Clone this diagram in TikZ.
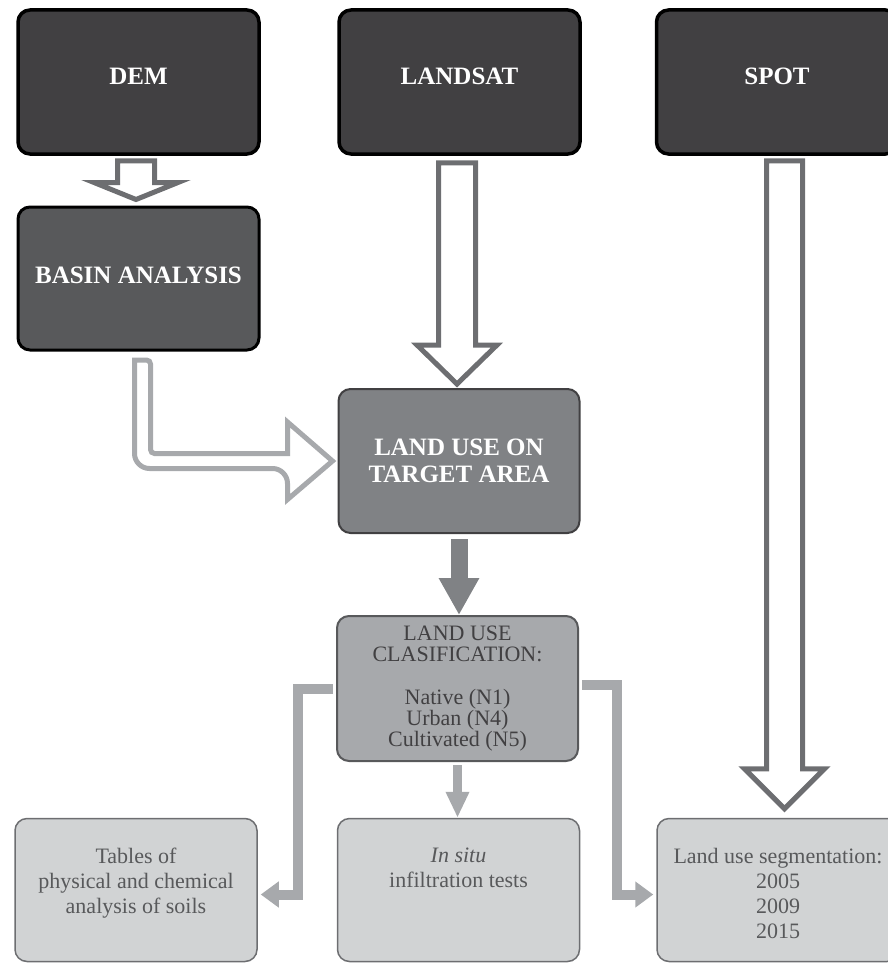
\documentclass[tikz,border=0pt]{standalone}
\usepackage{fontspec}
\setmainfont{Liberation Serif}
\usepackage{tikz}
\usetikzlibrary{arrows.meta,calc}

\definecolor{darkfill}{HTML}{414042}
\definecolor{basinfill}{HTML}{58595B}
\definecolor{midgray}{HTML}{808285}
\definecolor{arrowgray}{HTML}{A7A9AC}
\definecolor{palefill}{HTML}{D1D3D4}
\definecolor{linegray}{HTML}{6D6E71}

% hollow arrow pointing down: style, top, tip, half shaft, half head, head length
\newcommand{\hollowdown}[6]{%
	\draw[#1] ($(#2)+(-#4,0)$) -- ($(#3)+(-#4,-#6)$) -- ($(#3)+(-#5,-#6)$) -- (#3)
		-- ($(#3)+(#5,-#6)$) -- ($(#3)+(#4,-#6)$) -- ($(#2)+(#4,0)$) -- cycle;}

\begin{document}
\begin{tikzpicture}[x=1pt,y=-1pt,
	box/.style={rectangle,rounded corners=12pt,align=center,inner sep=0pt},
	topbox/.style={box,draw=black,line width=3.5pt,fill=darkfill,minimum width=241pt,minimum height=144pt,
		text=white,font=\fontsize{25}{27}\selectfont\bfseries,text depth=12pt},
	basinbox/.style={box,draw=black,line width=3pt,fill=basinfill,minimum width=241pt,minimum height=143pt,
		text=white,font=\fontsize{25}{27}\selectfont\bfseries,text depth=6pt},
	targetbox/.style={box,draw=darkfill,line width=2pt,fill=midgray,minimum width=241pt,minimum height=144pt,
		text=white,font=\fontsize{25}{27}\selectfont\bfseries},
	classbox/.style={box,draw=basinfill,line width=2pt,fill=arrowgray,minimum width=241pt,minimum height=145pt,
		text=darkfill,font=\fontsize{22}{20.7}\selectfont},
	lowbox/.style={box,draw=linegray,line width=1.5pt,fill=palefill,minimum width=242pt,minimum height=143pt},
	lowtext/.style={align=center,inner sep=0pt,anchor=north,text=basinfill,font=\fontsize{22}{25}\selectfont},
	hollow/.style={draw=linegray,line width=5pt,fill=white,line join=miter},
	hollowlight/.style={draw=arrowgray,line width=5pt,fill=white,line join=miter},
	fatarrow/.style={draw=midgray,line width=17pt,-{Triangle[length=37pt,width=38pt]}},
	thinarrow/.style={draw=arrowgray,line width=10pt,line join=miter,-{Triangle[length=18pt,width=25pt]}},
	midarrow/.style={draw=arrowgray,line width=9pt,-{Triangle[length=26pt,width=22pt]}}]
	\useasboundingbox (0,0) rectangle (888,963);
	% sources
	\node[topbox] (dem) at (138.5,82) {DEM};
	\node[topbox] (landsat) at (459.5,82) {LANDSAT};
	\node[topbox] (spot) at (777,82) {SPOT};
	% processing
	\node[basinbox] (basin) at (138.5,278.5) {BASIN ANALYSIS};
	\node[targetbox] (target) at (459,461) {LAND USE ON\\TARGET AREA};
	\node[classbox] (classif) at (457.5,688.5) {LAND USE\\CLASIFICATION:\\[23pt]Native (N1)\\Urban (N4)\\Cultivated (N5)};
	% results
	\node[lowbox] (tables) at (136,890) {};
	\node[lowbox] (insitu) at (458.5,890) {};
	\node[lowbox] (segm) at (778,890) {};
	\node[lowtext] (tablestext) at ([yshift=-30pt]tables.north) {Tables of\\physical and chemical\\analysis of soils};
	\node[lowtext] (insitutext) at ([yshift=-30pt]insitu.north) {\textit{In situ}\\infiltration tests};
	\node[lowtext] (segmtext) at ([yshift=-30pt]segm.north) {Land use segmentation:\\2005\\2009\\2015};
	% hollow arrows
	\coordinate (demout) at ([xshift=-2.5pt,yshift=-5pt]dem.south);
	\coordinate (basinin) at ([xshift=-2.5pt,yshift=6pt]basin.north);
	\coordinate (landsatout) at ([xshift=-2.5pt,yshift=-7pt]landsat.south);
	\coordinate (targetin) at ([xshift=-2pt,yshift=4pt]target.north);
	\coordinate (spotout) at ([xshift=7.5pt,yshift=-5pt]spot.south);
	\coordinate (segmin) at ([xshift=6.5pt,yshift=9pt]segm.north);
	\hollowdown{hollow}{demout}{basinin}{18.5}{42}{17}
	\hollowdown{hollow}{landsatout}{targetin}{18.5}{40}{39}
	\hollowdown{hollow}{spotout}{segmin}{18}{40}{40}
	\coordinate (basinout) at ([yshift=-8.5pt]basin.south);
	\coordinate (targetleft) at ([xshift=-5pt]target.west);
	\draw[hollowlight] ([xshift=-4pt]basinout) [rounded corners=15pt] |- ([xshift=-45pt,yshift=-7.5pt]targetleft) [sharp corners]
		-- ++(0,31) -- (targetleft) -- ++(-45,-39) -- ++(0,31.5) [rounded corners=4pt] -| ([xshift=12pt]basinout) [sharp corners] -- cycle;
	% solid arrows
	\draw[fatarrow] ([yshift=-5pt]target.south) -- (target.south |- classif.north);
	\draw[midarrow] ([yshift=-3pt]classif.south) -- (classif.south |- insitu.north);
	\draw[thinarrow] ([xshift=-3pt]classif.west) -- ++(-35,0) |- ([xshift=3pt,yshift=-4.5pt]tables.east);
	\draw[thinarrow] ([xshift=3pt,yshift=4pt]classif.east) -- ++(35,0) |- ([xshift=-3pt,yshift=-4.5pt]segm.west);
\end{tikzpicture}
\end{document}
